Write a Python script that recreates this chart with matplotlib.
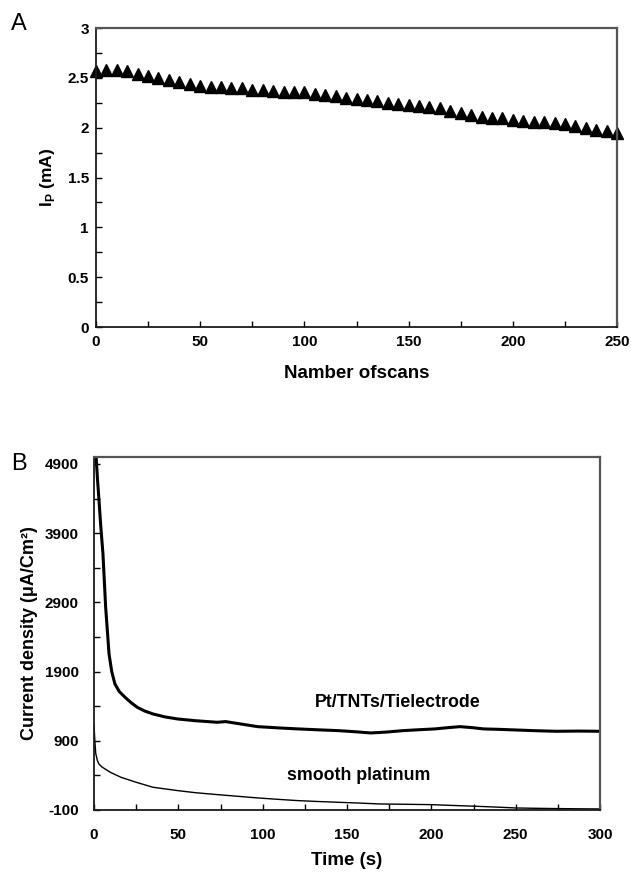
import matplotlib.pyplot as plt
from matplotlib.ticker import MultipleLocator

plt.rcParams['font.family'] = ['Liberation Sans', 'DejaVu Sans']
plt.rcParams['font.weight'] = 'bold'
plt.rcParams['mathtext.fontset'] = 'custom'
plt.rcParams['mathtext.rm'] = 'Liberation Sans:bold'
plt.rcParams['mathtext.bf'] = 'Liberation Sans:bold'
plt.rcParams['axes.unicode_minus'] = False

# panel A: peak current vs number of scans
scans = [0, 5, 10, 15, 20, 25, 30, 35, 40, 45, 50, 55, 60, 65, 70, 75, 80, 85, 90, 95,
         100, 105, 110, 115, 120, 125, 130, 135, 140, 145, 150, 155, 160, 165, 170, 175,
         180, 185, 190, 195, 200, 205, 210, 215, 220, 225, 230, 235, 240, 245, 250]
ip = [2.568, 2.575, 2.575, 2.565, 2.54, 2.515, 2.50, 2.475, 2.455, 2.435, 2.42, 2.41,
      2.41, 2.40, 2.395, 2.38, 2.38, 2.37, 2.36, 2.355, 2.355, 2.34, 2.33, 2.32, 2.30,
      2.29, 2.275, 2.265, 2.25, 2.24, 2.23, 2.22, 2.21, 2.20, 2.17, 2.15, 2.13, 2.11,
      2.10, 2.095, 2.08, 2.07, 2.06, 2.055, 2.045, 2.035, 2.02, 2.00, 1.98, 1.97, 1.945]

# panel B: chronoamperometry
t_tnt = [1.0, 1.5, 2.0, 2.9, 4.0, 5.3, 6.9, 8.9, 10.5, 12.4, 15.0, 18.4, 22.0, 25.6,
         30.0, 35.0, 42.0, 49.5, 60.0, 73.0, 78.0, 85.0, 97.0, 110.0, 121.0, 133.0,
         145.0, 155.0, 164.0, 173.0, 183.0, 193.0, 202.0, 210.0, 217.0, 224.0, 231.0,
         240.0, 250.0, 262.0, 274.0, 287.0, 300.0]
j_tnt = [5100, 4900, 4700, 4394, 4000, 3600, 2829, 2154, 1900, 1720, 1610, 1528, 1450,
         1384, 1330, 1287, 1245, 1215, 1190, 1167, 1177, 1150, 1104, 1085, 1071, 1058,
         1046, 1030, 1013, 1025, 1046, 1060, 1071, 1090, 1104, 1090, 1071, 1065, 1056,
         1045, 1037, 1040, 1037]
t_pt = [0.0, 0.5, 1.0, 2.0, 2.9, 4.5, 6.5, 10.0, 16.0, 25.0, 35.0, 49.5, 60.0, 73.0,
        85.0, 97.0, 110.0, 121.0, 133.0, 145.0, 157.0, 169.0, 185.0, 200.0, 213.0,
        227.0, 240.0, 250.0, 262.0, 274.0, 287.0, 300.0]
j_pt = [1130, 900, 720, 613, 565, 525, 493, 440, 372, 300, 228, 180, 150, 122, 98, 74,
        52, 35, 22, 11, 0, -13, -18, -23, -35, -47, -60, -71, -76, -80, -83, -85]

fig = plt.figure(figsize=(6.31, 8.73), dpi=100)

def style(ax, pad):
    ax.tick_params(which='both', direction='in', length=4, width=1, labelsize=11,
                   pad=pad, top=False, right=False)
    for s in ['left', 'bottom']:
        ax.spines[s].set_color('#1a1a1a')
        ax.spines[s].set_linewidth(1.3)
    for s in ['top', 'right']:
        ax.spines[s].set_color('#555555')
        ax.spines[s].set_linewidth(1.6)

ax1 = fig.add_axes([0.152, 0.6254, 0.826, 0.3425])
ax1.plot(scans, ip, linestyle='none', marker='^', color='black', markersize=9,
         clip_on=False)
ax1.set_xlim(0, 250)
ax1.set_ylim(0, 3)
ax1.xaxis.set_major_locator(MultipleLocator(50))
ax1.xaxis.set_minor_locator(MultipleLocator(25))
ax1.yaxis.set_minor_locator(MultipleLocator(0.25))
ax1.set_yticks([0, 0.5, 1, 1.5, 2, 2.5, 3])
ax1.set_yticklabels(['0', '0.5', '1', '1.5', '2', '2.5', '3'])
style(ax1, 6)
ax1.tick_params(axis='y', pad=5)
ax1.set_xlabel('Namber ofscans', fontsize=13.5, fontweight='bold', labelpad=11)
ax1.set_ylabel(r'I$_\mathrm{P}$ (mA)', fontsize=12.5, fontweight='bold', labelpad=8)
fig.text(0.018, 0.972, 'A', fontsize=17, fontweight='normal', va='center')

ax2 = fig.add_axes([0.149, 0.0722, 0.802, 0.4043])
ax2.plot(t_tnt, j_tnt, color='black', linewidth=2.2)
ax2.plot(t_pt, j_pt, color='black', linewidth=1.0)
ax2.set_xlim(0, 300)
ax2.set_ylim(-100, 5000)
ax2.xaxis.set_major_locator(MultipleLocator(50))
ax2.xaxis.set_minor_locator(MultipleLocator(25))
ax2.set_yticks([-100, 900, 1900, 2900, 3900, 4900])
ax2.set_yticks([400, 1400, 2400, 3400, 4400], minor=True)
style(ax2, 13)
ax2.tick_params(axis='y', pad=11)
ax2.set_xlabel('Time (s)', fontsize=13.5, fontweight='bold', labelpad=7)
ax2.set_ylabel('Current density (μA/Cm²)', fontsize=13, fontweight='bold', labelpad=5)
ax2.text(180, 1456, 'Pt/TNTs/Tielectrode', fontsize=12.8, fontweight='bold',
         ha='center', va='center')
ax2.text(157, 396, 'smooth platinum', fontsize=12.8, fontweight='bold',
         ha='center', va='center')
fig.text(0.018, 0.468, 'B', fontsize=17, fontweight='normal', va='center')

fig.savefig('out.png', dpi=100)
